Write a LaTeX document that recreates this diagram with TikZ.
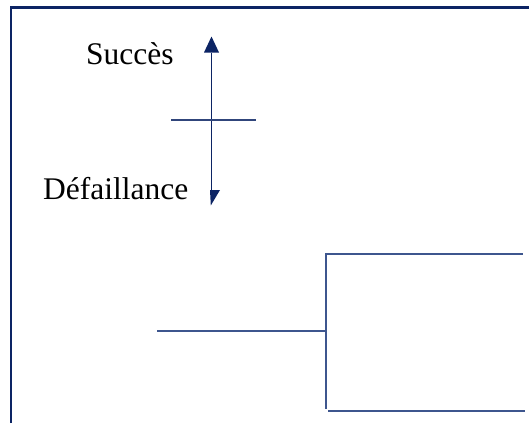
\documentclass[tikz,border=0pt]{standalone}
\usepackage{fontspec}
\setmainfont{Liberation Serif}
\definecolor{navy}{RGB}{12,36,100}
\definecolor{treeblue}{RGB}{62,86,142}
\tikzset{
  frameline/.style={draw=navy, line width=2.5bp},
  axisline/.style={draw=navy, line width=1.4bp},
  tickline/.style={draw=navy!85!white, line width=1.2bp},
  branchline/.style={draw=treeblue, line width=2.2bp},
  headfill/.style={fill=navy, draw=none},
  label/.style={inner sep=0pt, anchor=base west, font=\fontsize{31.5bp}{36bp}\selectfont}
}
\begin{document}
\begin{tikzpicture}[x=1bp, y=-1bp]
  \useasboundingbox (0,0) rectangle (529,423);

  % open frame: top and left edges only
  \coordinate (fbl) at (11,423);
  \coordinate (ftl) at (11,7.5);
  \coordinate (ftr) at (529,7.5);
  \draw[frameline] (fbl) -- (ftl) -- (ftr);

  % outcome labels
  \node[label] (succes) at (86,64) {Succès};
  \node[label] (defail) at (43,199) {Défaillance};

  % double-headed vertical axis
  \coordinate (ttip) at (211.5,36.5);
  \coordinate (tbase) at (211.5,52.5);
  \coordinate (bbase) at (211.5,190);
  \draw[axisline] (tbase) -- (bbase);
  \fill[headfill] ([xshift=-7.5bp]tbase) -- (ttip) -- ([xshift=7.5bp]tbase) -- cycle;
  \fill[headfill] (210,190) -- (220,190) -- (210.8,205.5) -- cycle;

  % horizontal tick across the axis
  \coordinate (cl) at (171,120);
  \coordinate (cr) at (256,120);
  \draw[tickline] (cl) -- (cr);

  % event-tree branching
  \coordinate (root) at (157,330.7);
  \coordinate (fork) at (326,330.7);
  \coordinate (ftop) at (326,254);
  \coordinate (fbot) at (326,409);
  \coordinate (utop) at (523,254);
  \coordinate (lbot) at (328,411);
  \coordinate (rbot) at (525,411);
  \draw[branchline] (root) -- (fork);
  \draw[branchline] (fbot) -- (ftop) -- (utop);
  \draw[branchline] (lbot) -- (rbot);
\end{tikzpicture}
\end{document}
